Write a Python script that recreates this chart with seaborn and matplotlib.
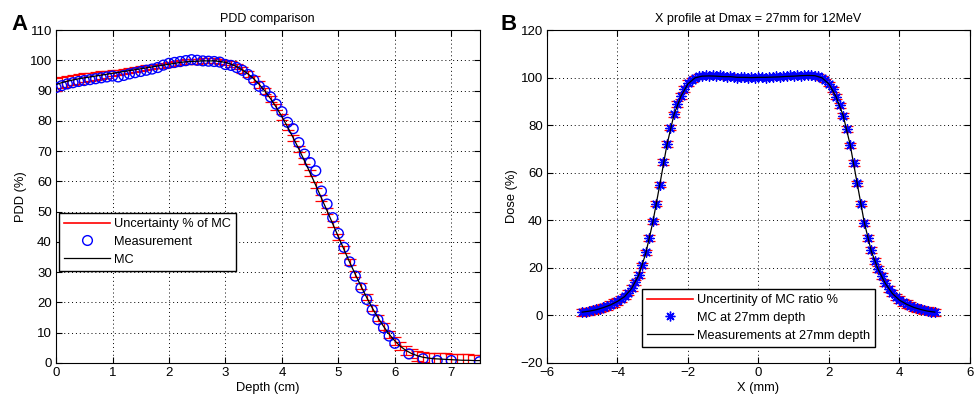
import numpy as np
import matplotlib
matplotlib.use("Agg")
import matplotlib.pyplot as plt
import seaborn as sns
from matplotlib.lines import Line2D

# ---- panel A : PDD comparison ----
mc_depth = [0.0, 0.1, 0.2, 0.3, 0.4, 0.5, 0.6, 0.7, 0.8, 0.9,
            1.0, 1.1, 1.2, 1.3, 1.4, 1.5, 1.6, 1.7, 1.8, 1.9,
            2.0, 2.1, 2.2, 2.3, 2.4, 2.5, 2.6, 2.7, 2.8, 2.9,
            3.0, 3.1, 3.2, 3.3, 3.4, 3.5, 3.6, 3.7, 3.8, 3.9,
            4.0, 4.1, 4.2, 4.3, 4.4, 4.5, 4.6, 4.7, 4.8, 4.9,
            5.0, 5.1, 5.2, 5.3, 5.4, 5.5, 5.6, 5.7, 5.8, 5.9,
            6.0, 6.1, 6.2, 6.3, 6.4, 6.5, 6.6, 6.7, 6.8, 6.9,
            7.0, 7.1, 7.2, 7.3, 7.4, 7.5]
mc_pdd = [92.0, 92.6, 93.1, 93.5, 93.9, 94.2, 94.5, 94.8, 95.1, 95.4,
          95.7, 96.0, 96.3, 96.6, 96.9, 97.2, 97.5, 97.8, 98.1, 98.4,
          98.7, 99.0, 99.3, 99.5, 99.6, 99.7, 99.8, 99.8, 99.8, 99.6,
          99.3, 98.7, 97.9, 96.8, 95.5, 93.9, 92.0, 89.8, 87.3, 84.5,
          81.4, 78.0, 74.4, 70.7, 66.8, 62.8, 58.7, 54.5, 50.3, 46.0,
          41.7, 37.5, 33.3, 29.3, 25.4, 21.7, 18.2, 15.0, 12.1, 9.5,
          7.3, 5.5, 4.1, 3.1, 2.4, 1.9, 1.6, 1.4, 1.3, 1.2,
          1.1, 1.0, 0.9, 0.9, 0.8, 0.8]
mc_unc = [2.0, 1.9, 1.8, 1.7, 1.6, 1.5, 1.4, 1.3, 1.2, 1.1,
          1.0, 0.9, 0.9, 0.8, 0.8, 0.8, 0.8, 0.8, 0.8, 0.8,
          0.8, 0.8, 0.8, 0.8, 0.8, 0.8, 0.8, 0.8, 0.8, 0.8,
          0.9, 0.9, 0.9, 1.0, 1.0, 1.0, 1.0, 1.0, 1.0, 1.0,
          1.0, 1.0, 1.0, 1.0, 1.0, 1.0, 1.0, 1.0, 1.0, 1.0,
          1.0, 1.0, 1.0, 1.0, 1.0, 1.0, 1.0, 1.0, 1.1, 1.1,
          1.2, 1.3, 1.4, 1.5, 1.6, 1.7, 1.8, 1.9, 2.0, 2.0,
          2.0, 2.0, 2.0, 2.0, 2.0, 2.0]

meas_depth = [0.0, 0.1, 0.2, 0.3, 0.4, 0.5, 0.6, 0.7, 0.8, 0.9,
              1.0, 1.1, 1.2, 1.3, 1.4, 1.5, 1.6, 1.7, 1.8, 1.9,
              2.0, 2.1, 2.2, 2.3, 2.4, 2.5, 2.6, 2.7, 2.8, 2.9,
              3.0, 3.1, 3.2, 3.3, 3.4, 3.5, 3.6, 3.7, 3.8, 3.9,
              4.0, 4.1, 4.2, 4.3, 4.4, 4.5, 4.6, 4.7, 4.8, 4.9,
              5.0, 5.1, 5.2, 5.3, 5.4, 5.5, 5.6, 5.7, 5.8, 5.9,
              6.0, 6.25, 6.5, 6.75, 7.0, 7.5]
meas_pdd = [91.0, 91.6, 92.2, 92.6, 93.0, 93.3, 93.6, 93.9, 94.2, 94.5,
            94.8, 94.5, 95.0, 95.5, 95.9, 96.3, 96.7, 97.1, 97.6, 98.4,
            99.0, 99.3, 99.6, 99.9, 100.2, 100.0, 99.8, 99.7, 99.6, 99.4,
            98.6, 98.3, 97.6, 96.7, 95.3, 93.5, 91.4, 89.9, 87.9, 85.5,
            83.0, 79.5, 77.4, 72.8, 69.0, 66.2, 63.5, 56.8, 52.5, 48.0,
            42.8, 38.2, 33.4, 28.7, 24.8, 21.0, 17.5, 14.3, 11.6, 8.9,
            6.5, 3.0, 1.4, 0.8, 0.8, 0.4]

# ---- panel B : X profile at Dmax ----
prof_x = [-5.0, -4.9, -4.8, -4.7, -4.6, -4.5, -4.4, -4.3, -4.2, -4.1,
          -4.0, -3.9, -3.8, -3.7, -3.6, -3.5, -3.4, -3.3, -3.2, -3.1,
          -3.0, -2.9, -2.8, -2.7, -2.6, -2.5, -2.4, -2.3, -2.2, -2.1,
          -2.0, -1.9, -1.8, -1.7, -1.6, -1.5, -1.4, -1.3, -1.2, -1.1,
          -1.0, -0.9, -0.8, -0.7, -0.6, -0.5, -0.4, -0.3, -0.2, -0.1,
          0.0, 0.1, 0.2, 0.3, 0.4, 0.5, 0.6, 0.7, 0.8, 0.9,
          1.0, 1.1, 1.2, 1.3, 1.4, 1.5, 1.6, 1.7, 1.8, 1.9,
          2.0, 2.1, 2.2, 2.3, 2.4, 2.5, 2.6, 2.7, 2.8, 2.9,
          3.0, 3.1, 3.2, 3.3, 3.4, 3.5, 3.6, 3.7, 3.8, 3.9,
          4.0, 4.1, 4.2, 4.3, 4.4, 4.5, 4.6, 4.7, 4.8, 4.9, 5.0]
mc_dose = [1.3, 1.5, 1.8, 2.1, 2.5, 2.9, 3.4, 3.9, 4.5, 5.2,
           6.0, 6.9, 8.0, 9.6, 11.5, 13.9, 17.0, 21.0, 26.5, 32.5,
           39.5, 47.0, 55.0, 64.5, 72.0, 79.0, 84.5, 88.8, 92.3, 95.3,
           97.6, 99.0, 100.0, 100.6, 100.8, 101.0, 100.7, 101.0, 100.6, 100.9,
           100.5, 100.3, 100.7, 100.2, 100.0, 100.4, 100.1, 99.9, 100.2, 100.0,
           100.1, 100.3, 100.0, 100.4, 100.2, 100.5, 100.3, 100.7, 100.5, 100.9,
           100.6, 101.0, 100.8, 101.2, 100.9, 101.1, 100.8, 100.5, 99.8, 98.8,
           97.3, 95.0, 92.0, 88.3, 84.0, 78.5, 71.5, 64.0, 55.5, 47.0,
           39.0, 32.5, 27.5, 23.0, 19.5, 16.5, 13.5, 11.2, 9.3, 7.8,
           6.6, 5.6, 4.8, 4.1, 3.5, 3.0, 2.6, 2.2, 1.9, 1.6, 1.4]
mc_dose_unc = [1.5] * 11 + [1.2] * 20 + [0.8] * 40 + [1.2] * 19 + [1.5] * 11

meas_x = [-5.0, -4.8, -4.6, -4.4, -4.2, -4.0, -3.8, -3.6, -3.4, -3.2,
          -3.0, -2.8, -2.6, -2.4, -2.2, -2.0, -1.8, -1.6, -1.4, -1.2,
          -1.0, -0.8, -0.6, -0.4, -0.2, 0.0, 0.2, 0.4, 0.6, 0.8,
          1.0, 1.2, 1.4, 1.6, 1.8, 2.0, 2.2, 2.4, 2.6, 2.8,
          3.0, 3.2, 3.4, 3.6, 3.8, 4.0, 4.2, 4.4, 4.6, 4.8, 5.0]
meas_dose = [1.4, 1.8, 2.4, 3.3, 4.4, 5.9, 7.9, 11.3, 16.8, 26.0,
             39.0, 55.0, 71.5, 84.3, 92.2, 97.4, 99.9, 100.6, 100.7, 100.6,
             100.4, 100.4, 100.1, 100.1, 100.0, 100.1, 100.1, 100.2, 100.3, 100.5,
             100.6, 100.8, 100.9, 100.8, 99.9, 97.3, 92.0, 84.2, 71.8, 55.5,
             39.2, 27.0, 19.2, 13.4, 9.2, 6.4, 4.7, 3.4, 2.5, 1.8, 1.4]

plt.rcParams["font.family"] = ["Liberation Sans", "DejaVu Sans"]
plt.rcParams["font.size"] = 8.5

fig = plt.figure(figsize=(9.78, 4.04), dpi=100)
ax_a = fig.add_axes([0.0573, 0.1015, 0.4330, 0.8242])
ax_b = fig.add_axes([0.5593, 0.1015, 0.4325, 0.8242])

BLUE = "#0000ff"
RED = "#ff0000"
ASTERISK = (8, 2, 0)  # matlab-style '*' (plus + cross)


def matlab_axes(ax):
    ax.set_facecolor("white")
    for sp in ax.spines.values():
        sp.set_color("black")
        sp.set_linewidth(0.8)
        sp.set_visible(True)
    ax.grid(True, color="black", linestyle=(0, (1, 3)), linewidth=0.7)
    ax.tick_params(direction="in", top=True, right=True, length=4,
                   labelsize=9.5, colors="black", pad=3)
    ax.set_axisbelow(True)


# panel A
ax_a.errorbar(mc_depth, mc_pdd, yerr=mc_unc, fmt="none", ecolor=RED,
              elinewidth=0.9, capsize=4, capthick=0.9, zorder=2)
sns.scatterplot(x=meas_depth, y=meas_pdd, ax=ax_a, marker="o", s=50,
                facecolor="none", edgecolor=BLUE, linewidth=1.0, zorder=3)
sns.lineplot(x=mc_depth, y=mc_pdd, ax=ax_a, color="black", linewidth=0.9,
             zorder=4)
ax_a.set_xlim(0, 7.5)
ax_a.set_ylim(0, 110)
ax_a.set_xticks(np.arange(0, 8, 1))
ax_a.set_yticks(np.arange(0, 111, 10))
matlab_axes(ax_a)
ax_a.set_title("PDD comparison", fontsize=9, pad=6)
ax_a.set_xlabel("Depth (cm)", fontsize=9.3, labelpad=2)
ax_a.set_ylabel("PDD (%)", fontsize=9.3, labelpad=2)

handles_a = [
    Line2D([], [], color=RED, linewidth=1.2),
    Line2D([], [], color=BLUE, marker="o", linestyle="none",
           markerfacecolor="none", markersize=7),
    Line2D([], [], color="black", linewidth=0.9),
]
leg_a = ax_a.legend(handles_a, ["Uncertainty % of MC", "Measurement", "MC"],
                    loc="upper left", bbox_to_anchor=(0.0, 0.458),
                    fontsize=9.2, frameon=True, fancybox=False,
                    edgecolor="black", framealpha=1, borderpad=0.4,
                    labelspacing=0.45, handlelength=3.6, handletextpad=0.3,
                    borderaxespad=0.2)
leg_a.get_frame().set_linewidth(1.0)

# panel B
ax_b.errorbar(prof_x, mc_dose, yerr=mc_dose_unc, fmt="none", ecolor=RED,
              elinewidth=0.9, capsize=4, capthick=0.9, zorder=2)
sns.scatterplot(x=prof_x, y=mc_dose, ax=ax_b, marker=ASTERISK, s=45,
                color=BLUE, edgecolor=BLUE, linewidth=1.0, zorder=3)
sns.lineplot(x=meas_x, y=meas_dose, ax=ax_b, color="black", linewidth=0.9,
             zorder=4)
ax_b.set_xlim(-6, 6)
ax_b.set_ylim(-20, 120)
ax_b.set_xticks(np.arange(-6, 7, 2))
ax_b.set_yticks(np.arange(-20, 121, 20))
matlab_axes(ax_b)
ax_b.set_title("X profile at Dmax = 27mm for 12MeV", fontsize=9, pad=6)
ax_b.set_xlabel("X (mm)", fontsize=9.3, labelpad=2)
ax_b.set_ylabel("Dose (%)", fontsize=9.3, labelpad=2)

handles_b = [
    Line2D([], [], color=RED, linewidth=1.2),
    Line2D([], [], color=BLUE, marker=ASTERISK, linestyle="none",
           markersize=7, markeredgewidth=1.0),
    Line2D([], [], color="black", linewidth=0.9),
]
leg_b = ax_b.legend(handles_b, ["Uncertinity of MC ratio %", "MC at 27mm depth",
                                "Measurements at 27mm depth"],
                    loc="upper left", bbox_to_anchor=(0.224, 0.222),
                    fontsize=9.2, frameon=True, fancybox=False,
                    edgecolor="black", framealpha=1, borderpad=0.4,
                    labelspacing=0.45, handlelength=3.6, handletextpad=0.3,
                    borderaxespad=0.0)
leg_b.get_frame().set_linewidth(1.0)

fig.text(0.012, 0.965, "A", fontsize=16, fontweight="bold", va="top")
fig.text(0.512, 0.965, "B", fontsize=16, fontweight="bold", va="top")

fig.savefig("out.png", dpi=100, facecolor="white")
